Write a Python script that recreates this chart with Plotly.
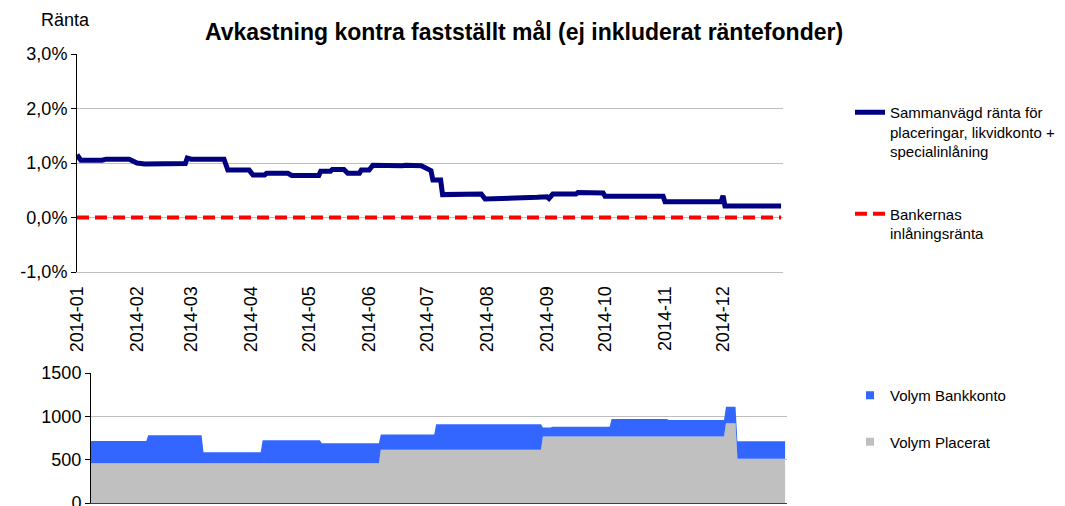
import plotly.graph_objects as go

# ---------------- data ----------------
months = ["2014-01", "2014-02", "2014-03", "2014-04", "2014-05", "2014-06",
          "2014-07", "2014-08", "2014-09", "2014-10", "2014-11", "2014-12"]

rate_dates = ["2014-01-01", "2014-01-03", "2014-01-14", "2014-01-16", "2014-01-28",
              "2014-02-01", "2014-02-05", "2014-02-13", "2014-02-15", "2014-02-25",
              "2014-02-26", "2014-02-27", "2014-03-01", "2014-03-18", "2014-03-20",
              "2014-03-31", "2014-04-02", "2014-04-08", "2014-04-09", "2014-04-20",
              "2014-04-22", "2014-05-06", "2014-05-07", "2014-05-12", "2014-05-13",
              "2014-05-19", "2014-05-21", "2014-05-27", "2014-05-28", "2014-06-01",
              "2014-06-03", "2014-06-18", "2014-06-20", "2014-06-28", "2014-07-01",
              "2014-07-03", "2014-07-04", "2014-07-08", "2014-07-09", "2014-07-29",
              "2014-07-31", "2014-08-25", "2014-08-27", "2014-09-01", "2014-09-02",
              "2014-09-04", "2014-09-16", "2014-09-17", "2014-09-30", "2014-10-01",
              "2014-10-31", "2014-11-01", "2014-11-30", "2014-12-01", "2014-12-02",
              "2014-12-31"]
rate_values = [1.15, 1.05, 1.05, 1.07, 1.07,
               1.00, 0.98, 0.98, 1.00, 1.00,
               0.99, 1.09, 1.07, 1.07, 0.87,
               0.87, 0.78, 0.78, 0.81, 0.81,
               0.77, 0.77, 0.85, 0.85, 0.88,
               0.88, 0.81, 0.81, 0.87, 0.87,
               0.96, 0.95, 0.96, 0.95, 0.91,
               0.86, 0.69, 0.69, 0.42, 0.43,
               0.34, 0.35, 0.37, 0.38, 0.35,
               0.43, 0.43, 0.46, 0.45, 0.39,
               0.39, 0.29, 0.29, 0.40, 0.21,
               0.21]

bank_rate_dates = ["2014-01-01", "2014-12-31"]
bank_rate_values = [0.0, 0.0]

vol_dates = ["2014-01-01", "2014-01-30", "2014-01-31", "2014-02-28", "2014-03-01",
             "2014-03-31", "2014-04-01", "2014-05-01", "2014-05-02", "2014-06-01",
             "2014-06-02", "2014-06-30", "2014-07-01", "2014-08-25", "2014-08-26",
             "2014-08-30", "2014-08-31", "2014-09-30", "2014-10-01", "2014-10-30",
             "2014-10-31", "2014-11-29", "2014-11-30", "2014-12-05", "2014-12-06",
             "2014-12-31"]
vol_placerat = [458, 458, 458, 458, 458,
                458, 458, 458, 458, 458,
                615, 615, 615, 615, 766,
                766, 766, 766, 766, 766,
                766, 766, 920, 920, 512,
                512]
vol_bankkonto = [258, 258, 323, 323, 128,
                 128, 266, 266, 232, 232,
                 174, 174, 294, 294, 104,
                 104, 115, 115, 204, 204,
                 193, 193, 192, 192, 200,
                 200]

rate_ticks = [-1, 0, 1, 2, 3]
rate_ticktext = ["-1,0%", "0,0%", "1,0%", "2,0%", "3,0%"]
vol_ticks = [0, 500, 1000, 1500]

# ---------------- figure ----------------
W, H = 1065, 506
OFF = 8  # page body margin
FONT = "Liberation Sans, Arial, sans-serif"

fig = go.Figure()

fig.add_trace(go.Scatter(
    x=rate_dates, y=rate_values, mode="lines",
    name="Sammanvägd ränta för<br>placeringar, likvidkonto +<br>specialinlåning",
    line=dict(color="#000080", width=5),
    legendgroup="a", legend="legend", xaxis="x", yaxis="y"))
fig.add_trace(go.Scatter(
    x=bank_rate_dates, y=bank_rate_values, mode="lines",
    name="Bankernas<br>inlåningsränta",
    line=dict(color="#FF0000", width=4, dash="12px,6px"),
    legendgroup="b", legend="legend", xaxis="x", yaxis="y"))

fig.add_trace(go.Scatter(
    x=vol_dates, y=vol_placerat, mode="lines", stackgroup="vol",
    line=dict(width=0, color="#C0C0C0"), fillcolor="#C0C0C0",
    name="Volym Placerat", showlegend=False, xaxis="x2", yaxis="y2"))
fig.add_trace(go.Scatter(
    x=vol_dates, y=vol_bankkonto, mode="lines", stackgroup="vol",
    line=dict(width=0, color="#3366FF"), fillcolor="#3366FF",
    name="Volym Bankkonto", showlegend=False, xaxis="x2", yaxis="y2"))

# legend entries for the volume panel
fig.add_trace(go.Scatter(
    x=[None], y=[None], mode="markers", name="Volym Bankkonto",
    marker=dict(symbol="square", size=8, color="#3366FF"),
    legendgroup="c", legend="legend2", xaxis="x2", yaxis="y2"))
fig.add_trace(go.Scatter(
    x=[None], y=[None], mode="markers", name="Volym Placerat",
    marker=dict(symbol="square", size=8, color="#C0C0C0"),
    legendgroup="d", legend="legend2", xaxis="x2", yaxis="y2"))


def px_x(p):
    return (p - OFF) / W


def px_y(p):
    return 1 - (p - OFF) / H


grid = "#BFBFBF"

fig.update_layout(
    width=W, height=H,
    margin=dict(l=0, r=0, t=0, b=0, autoexpand=False),
    paper_bgcolor="white", plot_bgcolor="white",
    font=dict(family=FONT, size=18, color="black"),
    title=dict(text="Avkastning kontra fastställt mål (ej inkluderat räntefonder)",
               x=px_x(524), y=px_y(32), xanchor="center", yanchor="middle",
               font=dict(family=FONT, size=23, weight="bold", color="black")),
    xaxis=dict(domain=[px_x(77), px_x(783)], anchor="y", type="date",
               range=["2014-01-01", "2015-01-01"],
               tickmode="array", tickvals=[m + "-01" for m in months], ticktext=months,
               tickangle=-90, ticks="", showgrid=False, showline=True,
               linecolor=grid, linewidth=1, ticklabelstandoff=6,
               tickfont=dict(size=18)),
    yaxis=dict(domain=[px_y(272), px_y(54)], anchor="x", range=[-1, 3],
               tickmode="array", tickvals=rate_ticks, ticktext=rate_ticktext,
               showgrid=True, gridcolor=grid, gridwidth=1, zeroline=False,
               showline=True, linecolor="black", linewidth=1,
               ticks="outside", ticklen=5, tickcolor="black",
               tickfont=dict(size=18)),
    xaxis2=dict(domain=[px_x(91), px_x(787)], anchor="y2", type="date",
                range=["2014-01-01", "2015-01-01"],
                showticklabels=False, ticks="", showgrid=False,
                showline=True, linecolor="#404040", linewidth=1),
    yaxis2=dict(domain=[px_y(503), px_y(373)], anchor="x2", range=[0, 1500],
                tickmode="array", tickvals=vol_ticks,
                showgrid=True, gridcolor=grid, gridwidth=1, zeroline=False,
                showline=True, linecolor="black", linewidth=1,
                ticks="outside", ticklen=5, tickcolor="black",
                tickfont=dict(size=18)),
    legend=dict(x=px_x(850), y=px_y(96), xanchor="left", yanchor="top",
                font=dict(family=FONT, size=15), valign="top",
                traceorder="grouped", tracegroupgap=40,
                bgcolor="rgba(0,0,0,0)"),
    legend2=dict(x=px_x(850), y=px_y(379), xanchor="left", yanchor="top",
                 font=dict(family=FONT, size=15),
                 traceorder="grouped", tracegroupgap=24,
                 bgcolor="rgba(0,0,0,0)"),
    annotations=[dict(text="Ränta", x=px_x(65), y=px_y(20), xref="paper", yref="paper",
                      xanchor="center", yanchor="middle", showarrow=False,
                      font=dict(family=FONT, size=18))],
)

fig.write_html("out.html")
